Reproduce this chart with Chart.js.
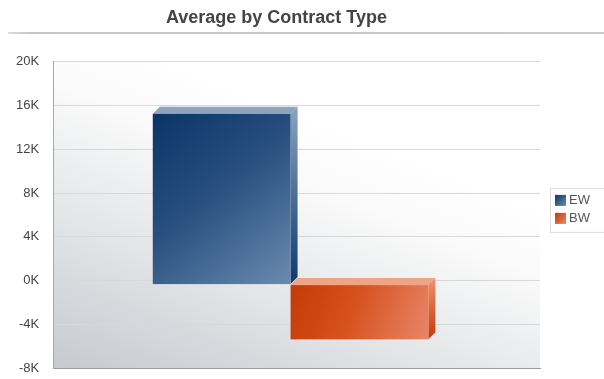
<!DOCTYPE html>
<html><head><meta charset="utf-8">
<script src="https://cdn.jsdelivr.net/npm/chart.js@4/dist/chart.umd.min.js"></script>
<style>html,body{margin:0;padding:0;background:#fff}#wrap{width:604px;height:379px}</style>
</head><body><div id="wrap"><canvas id="c" width="604" height="379"></canvas></div>
<script>
const categories = ['Average'];
const seriesNames = ['EW', 'BW'];
const ewValues = [15600];
const bwValues = [-5000];
const yTicks = [-8000, -4000, 0, 4000, 8000, 12000, 16000, 20000];

const DEPTH = 7;
const FRONT_DX = -6, FRONT_DY = 4;
const faceColors = {
  EW: {front: ['#0b3466', '#284f7f', '#6a8bb0'], top: '#8fa3bd', side: ['#8aa2bf', '#0d3a6c']},
  BW: {front: ['#c43a06', '#d6521e', '#e8866a'], top: '#f0a486', side: ['#f09070', '#c23a08']}
};

const bgPlugin = {
  id: 'bg',
  beforeDraw(chart) {
    const {ctx, chartArea: a} = chart;
    ctx.save();
    const g = ctx.createLinearGradient(a.left, a.bottom, a.left + a.width * 0.25, a.top);
    g.addColorStop(0, '#c6cacf');
    g.addColorStop(0.45, '#e4e6e8');
    g.addColorStop(0.8, '#fafafa');
    g.addColorStop(1, '#ffffff');
    ctx.fillStyle = g;
    ctx.fillRect(a.left, a.top, a.width, a.height);
    const lg = ctx.createLinearGradient(0, 0, 604, 0);
    lg.addColorStop(0, '#e2e3e8');
    lg.addColorStop(0.05, '#c4c6cc');
    lg.addColorStop(1, '#c8cad0');
    ctx.fillStyle = lg;
    ctx.fillRect(8, 32, 596, 2);
    ctx.restore();
  },
  afterDraw(chart) {
    const ctx = chart.ctx;
    const a = chart.chartArea;
    const x0 = a.right + 10, yc = (a.top + a.bottom) / 2 - 5;
    const n = chart.data.datasets.length;
    const rowH = 18;
    const y0 = yc - (n * rowH) / 2;
    ctx.save();
    ctx.strokeStyle = '#dcdde2';
    ctx.lineWidth = 1;
    ctx.strokeRect(x0 + 0.5, y0 - 4 + 0.5, 604 - x0, n * rowH + 8);
    ctx.font = '13px "Liberation Sans"';
    ctx.textBaseline = 'middle';
    chart.data.datasets.forEach((ds, i) => {
      const cy = y0 + i * rowH + rowH / 2;
      const c = faceColors[ds.label];
      const g = ctx.createLinearGradient(x0 + 5, cy - 6, x0 + 16, cy + 5);
      g.addColorStop(0, c.front[0]);
      g.addColorStop(1, c.front[2]);
      ctx.fillStyle = g;
      ctx.fillRect(x0 + 5, cy - 6, 11, 11);
      ctx.fillStyle = '#555';
      ctx.fillText(ds.label, x0 + 19, cy);
    });
    ctx.restore();
  }
};

const bar3d = {
  id: 'bar3d',
  afterDatasetsDraw(chart) {
    const ctx = chart.ctx;
    chart.data.datasets.forEach((ds, di) => {
      const meta = chart.getDatasetMeta(di);
      const c = faceColors[ds.label];
      meta.data.forEach(el => {
        const p = el.getProps(['x', 'y', 'base', 'width'], true);
        const l = p.x - p.width / 2 + FRONT_DX, r = p.x + p.width / 2 + FRONT_DX;
        const t = Math.min(p.y, p.base) + FRONT_DY, b = Math.max(p.y, p.base) + FRONT_DY;
        ctx.save();
        const sg = ctx.createLinearGradient(0, t - DEPTH, 0, b);
        sg.addColorStop(0, c.side[0]);
        sg.addColorStop(1, c.side[1]);
        ctx.fillStyle = sg;
        ctx.beginPath();
        ctx.moveTo(r, t); ctx.lineTo(r + DEPTH, t - DEPTH); ctx.lineTo(r + DEPTH, b - DEPTH); ctx.lineTo(r, b);
        ctx.closePath(); ctx.fill();
        ctx.fillStyle = c.top;
        ctx.beginPath();
        ctx.moveTo(l, t); ctx.lineTo(l + DEPTH, t - DEPTH); ctx.lineTo(r + DEPTH, t - DEPTH); ctx.lineTo(r, t);
        ctx.closePath(); ctx.fill();
        const fg = ctx.createLinearGradient(l, t, r, b);
        fg.addColorStop(0, c.front[0]);
        fg.addColorStop(0.45, c.front[1]);
        fg.addColorStop(1, c.front[2]);
        ctx.fillStyle = fg;
        ctx.fillRect(l, t, r - l, b - t);
        ctx.restore();
      });
    });
  }
};

new Chart(document.getElementById('c'), {
  type: 'bar',
  data: {
    labels: categories,
    datasets: [
      {label: seriesNames[0], data: ewValues, backgroundColor: 'rgba(0,0,0,0)'},
      {label: seriesNames[1], data: bwValues, backgroundColor: 'rgba(0,0,0,0)'}
    ]
  },
  options: {
    responsive: false,
    animation: false,
    devicePixelRatio: 1,
    layout: {padding: {left: 13, right: 64, top: 0, bottom: 4}},
    datasets: {bar: {categoryPercentage: 0.566, barPercentage: 1.0}},
    plugins: {
      title: {display: true, text: 'Average by Contract Type', color: '#444448',
        font: {family: 'Liberation Sans', size: 18, weight: 'bold'}, padding: {top: 7, bottom: 33}},
      legend: {display: false},
      tooltip: {enabled: false}
    },
    scales: {
      x: {
        ticks: {display: false, padding: 0},
        grid: {display: false, drawTicks: false, tickLength: 0},
        border: {display: true, color: '#9a9ca0'}
      },
      y: {
        min: yTicks[0], max: yTicks[yTicks.length - 1],
        afterBuildTicks(axis) { axis.ticks = yTicks.map(v => ({value: v})); },
        ticks: {color: '#444', font: {family: 'Liberation Sans', size: 13}, padding: 3,
          callback: v => (v / 1000) + 'K'},
        grid: {color: '#d6d8dc', drawTicks: true, tickLength: 11, tickColor: 'rgba(0,0,0,0)'},
        border: {display: true, color: '#a8aaae'}
      }
    }
  },
  plugins: [bgPlugin, bar3d]
});
</script></body></html>
